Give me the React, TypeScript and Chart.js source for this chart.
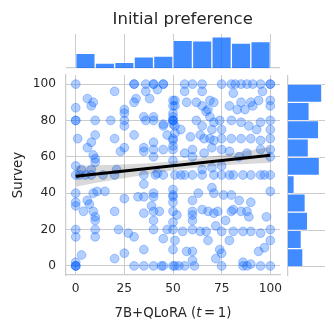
import React, { useEffect, useRef } from "react";
import { Chart, registerables } from "chart.js";

Chart.register(...registerables);

// ---------- data ----------
const xTicks = [0, 25, 50, 75, 100];
const yTicks = [0, 20, 40, 60, 80, 100];
const binCenters = [5, 15, 25, 35, 45, 55, 65, 75, 85, 95];
const topHistCounts = [21, 7, 8, 16, 17, 40, 39, 45, 36, 38];
const rightHistCounts = [19, 17, 25, 22, 8, 40, 26, 39, 27, 43];

const surveyPoints: [number, number][] = [
  // upper-left
  [0, 100], [30, 100], [30, 100], [36, 100], [40, 100], [40, 100], [45, 100], [20, 96], [36, 96], [42, 97],
  [6, 92], [9, 90], [8, 88], [31, 92], [30, 90], [38, 92], [0, 87], [25, 86], [25, 84], [50, 91], [50, 88],
  [0, 80], [0, 80], [10, 80], [18, 80], [25, 80], [25, 77], [35, 82], [36, 80], [40, 82], [40, 80], [45, 78],
  [50, 82], [50, 80], [50, 80], [50, 78], [30, 72], [10, 72], [1, 70], [8, 68], [6, 65], [20, 70], [23, 63],
  [25, 65], [35, 65], [35, 63], [40, 68], [40, 64], [40, 60], [45, 64], [50, 69], [50, 66], [9, 61], [10, 59],
  [0, 55], [3, 53], [8, 53], [10, 57], [21, 53], [42, 51],
  // upper-right
  [45, 100], [56, 100], [60, 100], [65, 100], [75, 100], [80, 100], [82, 100], [85, 100], [88, 100], [91, 100],
  [95, 100], [100, 100], [100, 100], [56, 96], [65, 96], [81, 95], [96, 96], [51, 91], [57, 90], [51, 88],
  [62, 90], [65, 88], [69, 91], [71, 90], [67, 85], [68, 86], [85, 90], [90, 90], [94, 91], [100, 91],
  [79, 88], [83, 86], [87, 86], [91, 88], [100, 88], [50, 84], [50, 80], [45, 77], [51, 77], [54, 75],
  [62, 80], [65, 77], [69, 82], [71, 79], [74, 80], [75, 75], [70, 75], [80, 80], [85, 79], [89, 77],
  [93, 75], [95, 79], [100, 80], [100, 75], [47, 72], [50, 70], [51, 73], [59, 71], [64, 72], [66, 70],
  [69, 70], [71, 69], [75, 70], [80, 70], [85, 70], [90, 70], [95, 69], [100, 70], [56, 62], [60, 64],
  [60, 60], [66, 62], [70, 65], [75, 64], [79, 63], [84, 60], [88, 62], [95, 64], [100, 64], [100, 60],
  [50, 64], [50, 58], [65, 53], [70, 54], [75, 55],
  // lower-left
  [0, 50], [2, 50], [5, 50], [8, 50], [14, 50], [20, 50], [35, 50], [41, 50], [35, 45], [0, 40], [9, 40],
  [11, 41], [15, 41], [0, 35], [0, 33], [6, 36], [7, 34], [4, 30], [9, 30], [10, 27], [10, 25], [20, 30],
  [25, 37], [32, 38], [35, 38], [40, 40], [40, 38], [39, 33], [40, 30], [40, 25], [40, 20], [35, 29],
  [50, 35], [52, 28], [50, 24], [0, 20], [0, 16], [10, 20], [10, 16], [22, 20], [27, 18], [30, 16],
  [35, 9], [45, 15], [47, 20], [50, 20], [50, 9], [3, 6], [0, 2], [0, 0], [0, 0], [0, 0], [20, 4], [25, 7],
  [30, 0], [35, 0], [40, 0], [44, 0], [50, 0],
  // lower-right
  [45, 50], [51, 50], [54, 50], [56, 50], [60, 50], [65, 50], [71, 50], [75, 50], [79, 50], [81, 50],
  [86, 50], [90, 50], [95, 50], [97, 50], [100, 50], [50, 42], [50, 39], [50, 38], [63, 40], [60, 36],
  [70, 43], [71, 40], [76, 39], [80, 39], [84, 36], [90, 35], [100, 41], [43, 30], [50, 30], [60, 30],
  [60, 28], [60, 25], [65, 31], [68, 30], [71, 29], [73, 30], [77, 25], [80, 30], [81, 31], [85, 30],
  [88, 30], [89, 27], [98, 27], [55, 19], [60, 20], [64, 19], [67, 19], [72, 22], [75, 19], [81, 19],
  [86, 19], [90, 19], [95, 18], [100, 20], [51, 14], [68, 14], [79, 14], [100, 14], [97, 10], [94, 8],
  [57, 8], [60, 8], [74, 9], [75, 7], [60, 3], [72, 4], [86, 2], [90, 1], [45, 0], [51, 0], [53, 0],
  [56, 0], [61, 0], [75, 0], [86, 0], [88, 0], [95, 0], [100, 0],
];

// fitted regression line (end points) and its confidence band
const regX = [0, 100];
const regY = [49.3, 60.8];
const bandX = [0, 10, 20, 30, 40, 50, 60, 70, 80, 90, 100];
const bandUpper = [55.0, 55.3, 55.6, 56.0, 56.6, 57.5, 58.7, 60.2, 61.9, 63.6, 65.4];
const bandLower = [43.6, 45.6, 47.4, 49.2, 50.9, 52.5, 53.8, 54.8, 55.6, 56.2, 56.8];

// ---------- style ----------
const FONT = '"DejaVu Sans", sans-serif';
const TEXT = "#262626";
const GRID = "#cccccc";
const POINT = "rgba(0, 95, 255, 0.3)";
const BAR = "rgba(0, 100, 255, 0.75)";
const BAR_EDGE = "rgba(255, 255, 255, 0.4)";

const setTicks = (vals: number[]) => (s: any) => {
  s.ticks = vals.map((v) => ({ value: v }));
};

const textPlugin = {
  id: "texts",
  afterDraw(chart: any) {
    const c = chart.ctx as CanvasRenderingContext2D;
    c.save();
    c.fillStyle = TEXT;
    c.font = `16.5px ${FONT}`;
    c.textAlign = "center";
    c.textBaseline = "alphabetic";
    c.fillText("Initial preference", 182.7, 24);
    c.save();
    c.font = `13.3px ${FONT}`;
    c.translate(21.5, 175);
    c.rotate(-Math.PI / 2);
    c.fillText("Survey", 0, 0);
    c.restore();
    const reg = `13.3px ${FONT}`;
    const ita = `italic 13.3px ${FONT}`;
    const parts: [string, string][] = [
      ["7B+QLoRA (", reg],
      ["t", ita],
      ["\u2009=\u2009", reg],
      ["1)", reg],
    ];
    let total = 0;
    const widths = parts.map(([t, f]) => {
      c.font = f;
      const w = c.measureText(t).width;
      total += w;
      return w;
    });
    let x = 173 - total / 2;
    c.textAlign = "left";
    parts.forEach(([t, f], i) => {
      c.font = f;
      c.fillText(t, x, 317.3);
      x += widths[i];
    });
    c.restore();
  },
};

function MainChart() {
  const ref = useRef<HTMLCanvasElement>(null);
  useEffect(() => {
    const chart = new Chart(ref.current!, {
      type: "scatter",
      data: {
        datasets: [
          {
            type: "scatter",
            data: surveyPoints.map(([x, y]) => ({ x, y })),
            backgroundColor: POINT,
            borderColor: POINT,
            borderWidth: 1,
            pointRadius: 4.4,
            order: 2,
          } as any,
          {
            type: "line",
            data: bandX.map((x, i) => ({ x, y: bandLower[i] })),
            borderColor: "transparent",
            borderWidth: 0,
            pointRadius: 0,
            fill: false,
            order: 1,
          },
          {
            type: "line",
            data: bandX.map((x, i) => ({ x, y: bandUpper[i] })),
            borderColor: "transparent",
            borderWidth: 0,
            pointRadius: 0,
            fill: "-1",
            backgroundColor: "rgba(0,0,0,0.15)",
            order: 1,
          },
          {
            type: "line",
            data: regX.map((x, i) => ({ x, y: regY[i] })),
            borderColor: "#000000",
            borderWidth: 3,
            pointRadius: 0,
            fill: false,
            order: 0,
          },
        ],
      },
      options: {
        animation: false,
        responsive: false,
        events: [],
        layout: { padding: { left: 0, top: 75, right: 54, bottom: 0 } },
        plugins: { legend: { display: false }, tooltip: { enabled: false }, title: { display: false } },
        scales: {
          x: {
            type: "linear",
            min: -5,
            max: 105,
            afterBuildTicks: setTicks(xTicks),
            afterFit: (s: any) => {
              s.height = 55;
            },
            grid: { color: GRID, lineWidth: 1, drawTicks: false },
            border: { color: GRID, width: 1.25 },
            ticks: { padding: 7, color: TEXT, font: { family: FONT, size: 12.2 } },
          },
          y: {
            type: "linear",
            min: -5,
            max: 105,
            afterBuildTicks: setTicks(yTicks),
            afterFit: (s: any) => {
              s.width = 66;
            },
            grid: { color: GRID, lineWidth: 1, drawTicks: false },
            border: { color: GRID, width: 1.25 },
            ticks: { padding: 10, color: TEXT, font: { family: FONT, size: 12.2 } },
          },
        },
      },
      plugins: [textPlugin],
    });
    return () => chart.destroy();
  }, []);
  return <canvas ref={ref} width={334} height={330} style={{ position: "absolute", left: 0, top: 0, width: 334, height: 330 }} />;
}

function TopHist() {
  const ref = useRef<HTMLCanvasElement>(null);
  useEffect(() => {
    const chart = new Chart(ref.current!, {
      type: "bar",
      data: {
        datasets: [
          {
            data: binCenters.map((c, i) => ({ x: c, y: topHistCounts[i] })),
            backgroundColor: BAR,
            borderColor: BAR_EDGE,
            borderWidth: 1,
            borderSkipped: "bottom",
            barPercentage: 1,
            categoryPercentage: 1,
          } as any,
        ],
      },
      options: {
        animation: false,
        responsive: false,
        events: [],
        layout: { padding: { left: 0, right: 0, top: 4, bottom: 2 } },
        plugins: { legend: { display: false }, tooltip: { enabled: false } },
        scales: {
          x: {
            type: "linear",
            min: -5,
            max: 105,
            offset: false,
            afterBuildTicks: setTicks(xTicks),
            afterFit: (s: any) => {
              s.height = 0;
            },
            ticks: { display: false },
            grid: { color: GRID, lineWidth: 1, drawTicks: false, offset: false },
            border: { color: GRID, width: 1.25 },
          },
          y: { type: "linear", min: 0, max: 49, display: false },
        },
      },
    });
    return () => chart.destroy();
  }, []);
  return <canvas ref={ref} width={214} height={40} style={{ position: "absolute", left: 66, top: 30, width: 214, height: 40 }} />;
}

function RightHist() {
  const ref = useRef<HTMLCanvasElement>(null);
  useEffect(() => {
    const chart = new Chart(ref.current!, {
      type: "bar",
      data: {
        datasets: [
          {
            data: binCenters.map((c, i) => ({ y: c, x: rightHistCounts[i] })),
            backgroundColor: BAR,
            borderColor: BAR_EDGE,
            borderWidth: 1,
            borderSkipped: "left",
            barPercentage: 1,
            categoryPercentage: 1,
          } as any,
        ],
      },
      options: {
        indexAxis: "y",
        animation: false,
        responsive: false,
        events: [],
        layout: { padding: { left: 4, right: 4, top: 0, bottom: 0 } },
        plugins: { legend: { display: false }, tooltip: { enabled: false } },
        scales: {
          y: {
            type: "linear",
            min: -5,
            max: 105,
            offset: false,
            afterBuildTicks: setTicks(yTicks),
            afterFit: (s: any) => {
              s.width = 0;
            },
            ticks: { display: false },
            grid: { color: GRID, lineWidth: 1, drawTicks: false, offset: false },
            border: { color: GRID, width: 1.25 },
          },
          x: { type: "linear", min: 0, max: 47, display: false },
        },
      },
    });
    return () => chart.destroy();
  }, []);
  return <canvas ref={ref} width={45} height={201} style={{ position: "absolute", left: 284, top: 75, width: 45, height: 201 }} />;
}

export default function App() {
  return (
    <div style={{ position: "fixed", left: 0, top: 0, width: 334, height: 330, background: "#ffffff", overflow: "hidden" }}>
      <MainChart />
      <TopHist />
      <RightHist />
    </div>
  );
}
